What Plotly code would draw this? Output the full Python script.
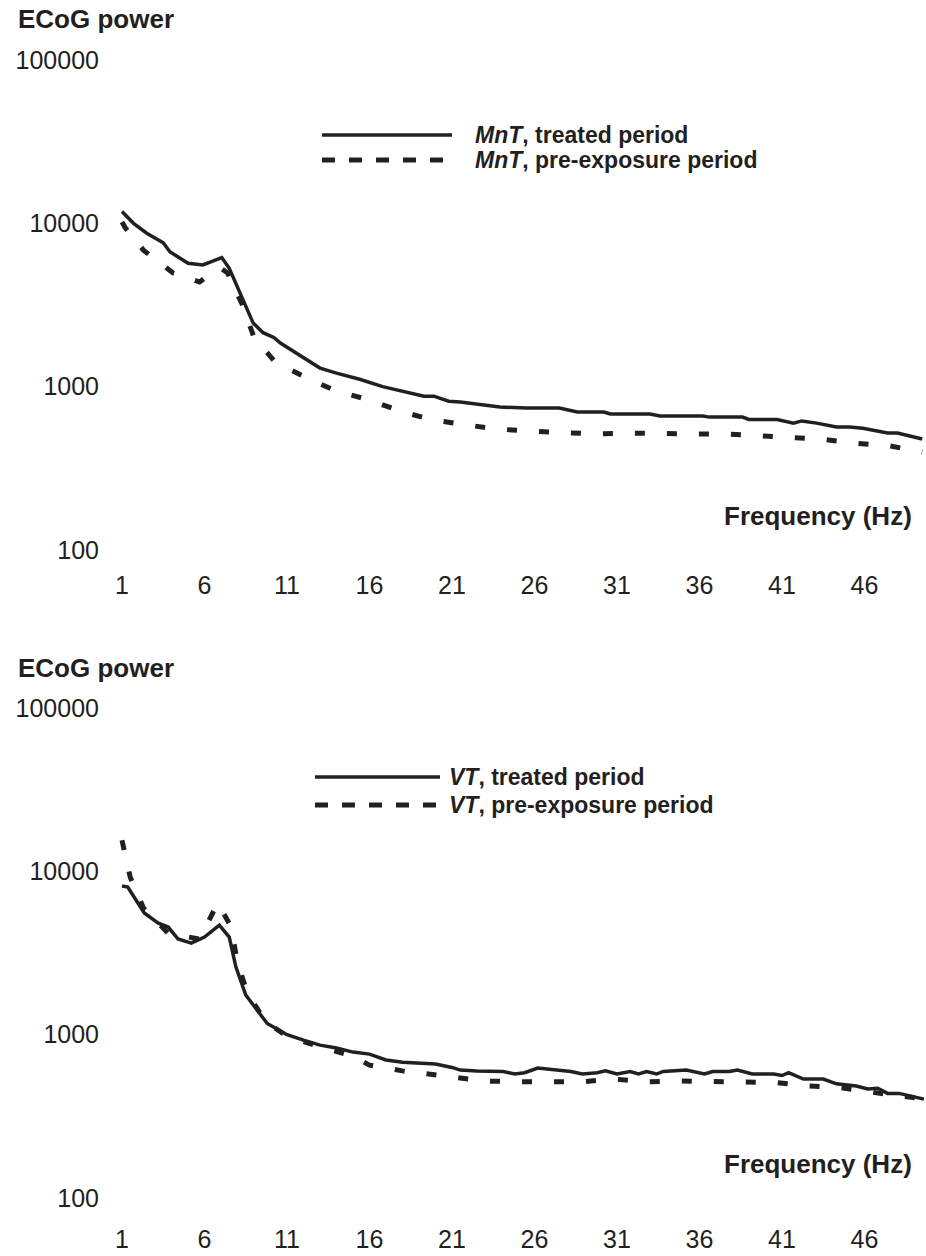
import plotly.graph_objects as go

# ---------------- data ----------------
mnt_treated_hz = [1, 1.7, 2.5, 3.5, 3.9, 5, 5.9, 7.05, 7.5, 8.15, 8.95, 9.55, 10.2, 10.6, 11.8,
                  13, 14, 15.4, 16.8, 18, 19.3, 19.9, 20.8, 21.5, 22.9, 23.9, 25.5, 27.5, 28.6,
                  30.2, 30.6, 33, 33.6, 36.2, 36.6, 38.6, 39, 40.7, 41.7, 42.2, 43.1, 44.3, 45.1,
                  45.9, 47.4, 48, 49.5]
mnt_treated_power = [11800, 10000, 8700, 7600, 6700, 5700, 5560, 6170, 5300, 3740, 2450, 2140, 2000,
                     1850, 1560, 1300, 1210, 1110, 1000, 940, 875, 875, 815, 806, 771, 750, 740, 740,
                     700, 700, 680, 680, 661, 661, 651, 651, 630, 630, 598, 617, 598, 566, 566, 557,
                     520, 520, 478]

mnt_pre_hz = [1, 1.2, 2.3, 4.1, 5.7, 6.1, 7.0, 7.4, 8.3, 9, 10.3, 12.2, 14, 16, 18, 19.9, 21.9,
              23.8, 25.7, 27.7, 29.7, 31.7, 33.6, 35.6, 37.5, 39.5, 41.5, 43.4, 45.3, 47.4, 49.5]
mnt_pre_power = [10200, 9400, 6850, 4960, 4370, 4680, 5300, 4960, 3160, 2000, 1410, 1130, 940, 828,
                 700, 624, 582, 550, 535, 527, 513, 520, 513, 513, 513, 502, 490, 478, 452, 436, 398]

vt_treated_hz = [1, 1.35, 2.35, 3.2, 3.8, 4.4, 5.2, 6, 6.9, 7.5, 7.9, 8.5, 9.8, 11, 12, 13, 14, 15,
                 16, 17, 18, 19, 20, 21, 21.5, 22.5, 24.1, 24.8, 25.4, 26.2, 27.2, 28.2, 28.9, 29.8,
                 30.3, 31, 31.8, 32.3, 32.8, 33.4, 33.8, 35.2, 36.3, 36.8, 37.8, 38.3, 39.2, 40.5,
                 41.0, 41.4, 42.3, 43.5, 44.3, 45.5, 46.2, 46.8, 47.4, 48.1, 49.6]
vt_treated_power = [8130, 8020, 5560, 4820, 4560, 3850, 3630, 3960, 4680, 3960, 2600, 1750, 1170,
                    1000, 925, 863, 828, 782, 760, 700, 677, 670, 661, 630, 607, 600, 595, 574, 585,
                    624, 607, 595, 574, 585, 600, 574, 595, 574, 595, 574, 595, 607, 574, 595, 595,
                    607, 574, 574, 562, 585, 535, 535, 500, 485, 465, 470, 437, 437, 403]

vt_pre_hz = [1, 1.5, 2.3, 3.8, 5.7, 6.8, 7.6, 8, 8.6, 9.7, 11, 13, 15, 16, 18, 21, 23, 24.9, 26.8,
             28.9, 30.8, 32.8, 34.7, 36.6, 38.6, 40.6, 42.6, 44.5, 46.4, 48.5, 49.5]
vt_pre_power = [15500, 9200, 5960, 4170, 3850, 6400, 4600, 2750, 1800, 1200, 980, 840, 740, 650,
                600, 555, 520, 515, 515, 515, 535, 515, 520, 515, 515, 510, 485, 475, 445, 420, 405]

x_tick_vals = [1, 6, 11, 16, 21, 26, 31, 36, 41, 46]
y_tick_vals = [100, 1000, 10000, 100000]
y_tick_text = ["100", "1000", "10000", "100000"]

legend_top = ["<b><i>MnT</i>, treated period</b>", "<b><i>MnT</i>, pre-exposure period</b>"]
legend_bottom = ["<b><i>VT</i>, treated period</b>", "<b><i>VT</i>, pre-exposure period</b>"]

# ---------------- figure ----------------
W, H = 926, 1256
INK = "#231f20"
FONT = "Liberation Sans, Arial, sans-serif"


def px_x(p):
    return p / W


def px_y(p):
    return 1 - p / H


fig = go.Figure()

solid = dict(color=INK, width=3.5)
dashed = dict(color=INK, width=5, dash="10px,22px")

fig.add_trace(go.Scatter(x=mnt_treated_hz, y=mnt_treated_power, mode="lines", line=solid,
                         xaxis="x", yaxis="y", showlegend=False))
fig.add_trace(go.Scatter(x=mnt_pre_hz, y=mnt_pre_power, mode="lines", line=dashed,
                         xaxis="x", yaxis="y", showlegend=False))
fig.add_trace(go.Scatter(x=vt_treated_hz, y=vt_treated_power, mode="lines", line=solid,
                         xaxis="x2", yaxis="y2", showlegend=False))
fig.add_trace(go.Scatter(x=vt_pre_hz, y=vt_pre_power, mode="lines", line=dashed,
                         xaxis="x2", yaxis="y2", showlegend=False))

xdomain = [px_x(100), 1.0]
xrange_ = [-0.333, 49.727]

common_x = dict(domain=xdomain, range=xrange_, tickmode="array", tickvals=x_tick_vals,
                showgrid=False, zeroline=False, showline=False, ticks="",
                tickfont=dict(family=FONT, size=25, color=INK), automargin=False)
common_y = dict(type="log", tickmode="array", tickvals=y_tick_vals, ticktext=y_tick_text,
                showgrid=False, zeroline=False, showline=False, ticks="",
                tickfont=dict(family=FONT, size=25, color=INK), automargin=False)

fig.update_layout(
    width=W, height=H,
    margin=dict(l=0, r=0, t=0, b=0),
    paper_bgcolor="white", plot_bgcolor="white",
    font=dict(family=FONT, color=INK),
    xaxis=dict(**common_x, anchor="y"),
    yaxis=dict(**common_y, domain=[px_y(568), px_y(55)], range=[1.8898, 5.0306], anchor="x"),
    xaxis2=dict(**common_x, anchor="y2"),
    yaxis2=dict(**common_y, domain=[px_y(1222), px_y(703)], range=[1.853, 5.0306], anchor="x2"),
)

annotations = []
shapes = []

# axis titles
for yc in (19, 668):
    annotations.append(dict(text="<b>ECoG power</b>", x=px_x(16), y=px_y(yc), xref="paper",
                            yref="paper", xanchor="left", yanchor="middle", showarrow=False,
                            font=dict(family=FONT, size=26, color=INK)))
for yc in (516, 1164):
    annotations.append(dict(text="<b>Frequency (Hz)</b>", x=px_x(914), y=px_y(yc), xref="paper",
                            yref="paper", xanchor="right", yanchor="middle", showarrow=False,
                            font=dict(family=FONT, size=26, color=INK)))

# legends (long line samples drawn as paper shapes)
legend_specs = [
    (legend_top, 322, 452, 473, 135, 160),
    (legend_bottom, 315, 440, 447, 777, 805),
]
for labels, x0, x1, xt, y_solid, y_dash in legend_specs:
    shapes.append(dict(type="line", xref="paper", yref="paper", x0=px_x(x0), x1=px_x(x1),
                       y0=px_y(y_solid), y1=px_y(y_solid), line=dict(color=INK, width=3.5)))
    shapes.append(dict(type="line", xref="paper", yref="paper", x0=px_x(x0), x1=px_x(x1),
                       y0=px_y(y_dash), y1=px_y(y_dash),
                       line=dict(color=INK, width=5, dash="13px,14px")))
    for lab, yy in zip(labels, (y_solid, y_dash)):
        annotations.append(dict(text=lab, x=px_x(xt), y=px_y(yy), xref="paper", yref="paper",
                                xanchor="left", yanchor="middle", showarrow=False,
                                font=dict(family=FONT, size=23, color=INK)))

fig.update_layout(annotations=annotations, shapes=shapes)

fig.write_html("out.html")
